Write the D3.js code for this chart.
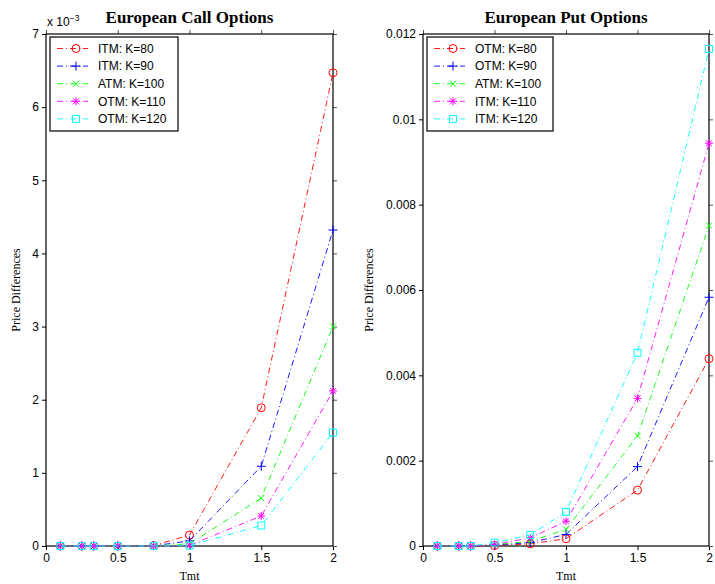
<!DOCTYPE html>
<html>
<head>
<meta charset="utf-8">
<script src="https://cdn.jsdelivr.net/npm/d3@7"></script>
<style>
  body { margin: 0; background: #fff; }
  svg { display: block; }
</style>
</head>
<body>
<div id="chart"></div>
<script>
// maturities (years)
var tmt = [0.1, 0.25, 1 / 3, 0.5, 0.75, 1, 1.5, 2];

// call price differences
var callK80  = [0, 0, 0, 0, 0.000005, 0.00015, 0.00189, 0.00647];
var callK90  = [0, 0, 0, 0, 0.000003, 0.00007, 0.00109, 0.00432];
var callK100 = [0, 0, 0, 0, 0.000002, 0.00003, 0.000655, 0.00300];
var callK110 = [0, 0, 0, 0, 0.000001, 0.00001, 0.00041, 0.00212];
var callK120 = [0, 0, 0, 0, 0.000001, 0.000005, 0.00028, 0.00155];

// put price differences
var putK80  = [0, 0, 0, 0.00001, 0.00005, 0.00017, 0.00131, 0.00439];
var putK90  = [0, 0, 0, 0.00002, 0.00008, 0.00027, 0.00186, 0.00583];
var putK100 = [0, 0, 0, 0.00003, 0.00011, 0.00039, 0.00258, 0.00751];
var putK110 = [0, 0, 0, 0.00004, 0.00019, 0.00058, 0.00346, 0.00944];
var putK120 = [0, 0, 0, 0.00008, 0.00026, 0.00080, 0.00453, 0.01165];

var callNames = ["ITM: K=80", "ITM: K=90", "ATM: K=100", "OTM: K=110", "OTM: K=120"];
var putNames  = ["OTM: K=80", "OTM: K=90", "ATM: K=100", "ITM: K=110", "ITM: K=120"];

var xTicks = [0, 0.5, 1, 1.5, 2];
var callTicks = [0, 0.001, 0.002, 0.003, 0.004, 0.005, 0.006, 0.007];
var putTicks = [0, 0.002, 0.004, 0.006, 0.008, 0.01, 0.012];

var colors = ["#ff0000", "#0000ff", "#00ff00", "#ff00ff", "#00ffff"];
var markers = ["circle", "plus", "x", "star", "square"];

var svg = d3.select("#chart").append("svg")
  .attr("width", 715)
  .attr("height", 584);

function markerPath(type) {
  var p = d3.path();
  if (type == "circle") {
    p.moveTo(4, 0); p.arc(0, 0, 4, 0, 2 * Math.PI);
  } else if (type == "plus") {
    p.moveTo(-4.5, 0); p.lineTo(4.5, 0); p.moveTo(0, -4.5); p.lineTo(0, 4.5);
  } else if (type == "x") {
    p.moveTo(-3, -3); p.lineTo(3, 3); p.moveTo(-3, 3); p.lineTo(3, -3);
  } else if (type == "star") {
    p.moveTo(-4, 0); p.lineTo(4, 0); p.moveTo(0, -4); p.lineTo(0, 4);
    p.moveTo(-3, -3); p.lineTo(3, 3); p.moveTo(-3, 3); p.lineTo(3, -3);
  } else {
    p.rect(-3.5, -3.5, 7, 7);
  }
  return p.toString();
}

function drawPanel(opt) {
  var x = d3.scaleLinear().domain([0, 2]).range([opt.left, opt.right]);
  var y = d3.scaleLinear().domain([0, opt.ymax]).range([546, 34]);
  var g = svg.append("g");

  // ticks (outward on all sides)
  g.append("g").attr("transform", "translate(0,546)")
    .call(d3.axisBottom(x).tickValues(xTicks).tickSize(4).tickFormat(d3.format("")))
    .call(styleAxis);
  g.append("g").attr("transform", "translate(0,34)")
    .call(d3.axisTop(x).tickValues(xTicks).tickSize(4).tickFormat(""))
    .call(styleAxis).selectAll(".tick line").attr("stroke", "#555");
  g.append("g").attr("transform", "translate(" + opt.left + ",0)")
    .call(d3.axisLeft(y).tickValues(opt.yTicks).tickSize(4).tickFormat(opt.fmt))
    .call(styleAxis);
  g.append("g").attr("transform", "translate(" + opt.right + ",0)")
    .call(d3.axisRight(y).tickValues(opt.yTicks).tickSize(4).tickFormat(""))
    .call(styleAxis).selectAll(".tick line").attr("stroke", "#555");

  g.append("rect")
    .attr("x", opt.left).attr("y", 34)
    .attr("width", opt.right - opt.left).attr("height", 512)
    .attr("fill", "none").attr("stroke", "#000").attr("stroke-width", 1.2);

  var line = d3.line()
    .x(function(d) { return x(d[0]); })
    .y(function(d) { return y(d[1]); });

  opt.series.forEach(function(vals, i) {
    var pts = tmt.map(function(t, j) { return [t, vals[j]]; });
    g.append("path")
      .datum(pts)
      .attr("d", line)
      .attr("fill", "none")
      .attr("stroke", colors[i])
      .attr("stroke-width", 0.9)
      .attr("stroke-dasharray", "6,3,1,3");
    g.selectAll(".m" + i)
      .data(pts)
      .enter()
      .append("path")
        .attr("transform", function(d) { return "translate(" + x(d[0]) + "," + y(d[1]) + ")"; })
        .attr("d", markerPath(markers[i]))
        .attr("fill", "none")
        .attr("stroke", colors[i])
        .attr("stroke-width", 1);
  });

  // title and labels
  var cx = (opt.left + opt.right) / 2;
  svg.append("text")
    .attr("x", cx).attr("y", 23)
    .attr("text-anchor", "middle")
    .style("font", "bold 17px 'Liberation Serif', serif")
    .text(opt.title);
  svg.append("text")
    .attr("x", cx).attr("y", 580)
    .attr("text-anchor", "middle")
    .style("font", "12px 'Liberation Serif', serif")
    .text("Tmt");
  svg.append("text")
    .attr("transform", "translate(" + opt.ylabX + ",290) rotate(-90)")
    .attr("text-anchor", "middle")
    .style("font", "12px 'Liberation Serif', serif")
    .text("Price Differences");

  // legend
  var lg = svg.append("g").attr("transform", "translate(" + opt.legX + ",37)");
  lg.append("rect")
    .attr("width", opt.legW).attr("height", 94)
    .attr("fill", "#fff").attr("stroke", "#000").attr("stroke-width", 1.2);
  opt.names.forEach(function(name, i) {
    var yy = 11.5 + i * 17.6;
    lg.append("line")
      .attr("x1", 7).attr("x2", 38).attr("y1", yy).attr("y2", yy)
      .attr("stroke", colors[i]).attr("stroke-width", 0.9)
      .attr("stroke-dasharray", "6,3,1,3");
    lg.append("path")
      .attr("transform", "translate(26," + yy + ")")
      .attr("d", markerPath(markers[i]))
      .attr("fill", "none").attr("stroke", colors[i]);
    lg.append("text")
      .attr("x", 48).attr("y", yy + 4.3)
      .style("font", "12px 'Liberation Sans', Arial, sans-serif")
      .text(name);
  });
}

function styleAxis(sel) {
  sel.select(".domain").remove();
  sel.selectAll(".tick line").attr("stroke", "#000");
  sel.selectAll(".tick text")
    .style("font", "12px 'Liberation Sans', Arial, sans-serif")
    .attr("fill", "#000");
}

drawPanel({
  left: 46, right: 333, ymax: 0.007, yTicks: callTicks,
  fmt: function(d) { return d3.format("")(Math.round(d * 1000)); },
  series: [callK80, callK90, callK100, callK110, callK120],
  names: callNames, title: "European Call Options",
  ylabX: 20, legX: 50, legW: 128
});

drawPanel({
  left: 423, right: 709, ymax: 0.012, yTicks: putTicks,
  fmt: function(d) { return d3.format("")(+d.toFixed(3)); },
  series: [putK80, putK90, putK100, putK110, putK120],
  names: putNames, title: "European Put Options",
  ylabX: 373, legX: 427, legW: 126
});

// exponent note
var ex = svg.append("text")
  .attr("x", 47).attr("y", 26)
  .style("font", "12px 'Liberation Sans', Arial, sans-serif");
ex.append("tspan").text("x 10");
ex.append("tspan").attr("dy", -5).style("font-size", "8.5px").text("\u22123");
</script>
</body>
</html>
